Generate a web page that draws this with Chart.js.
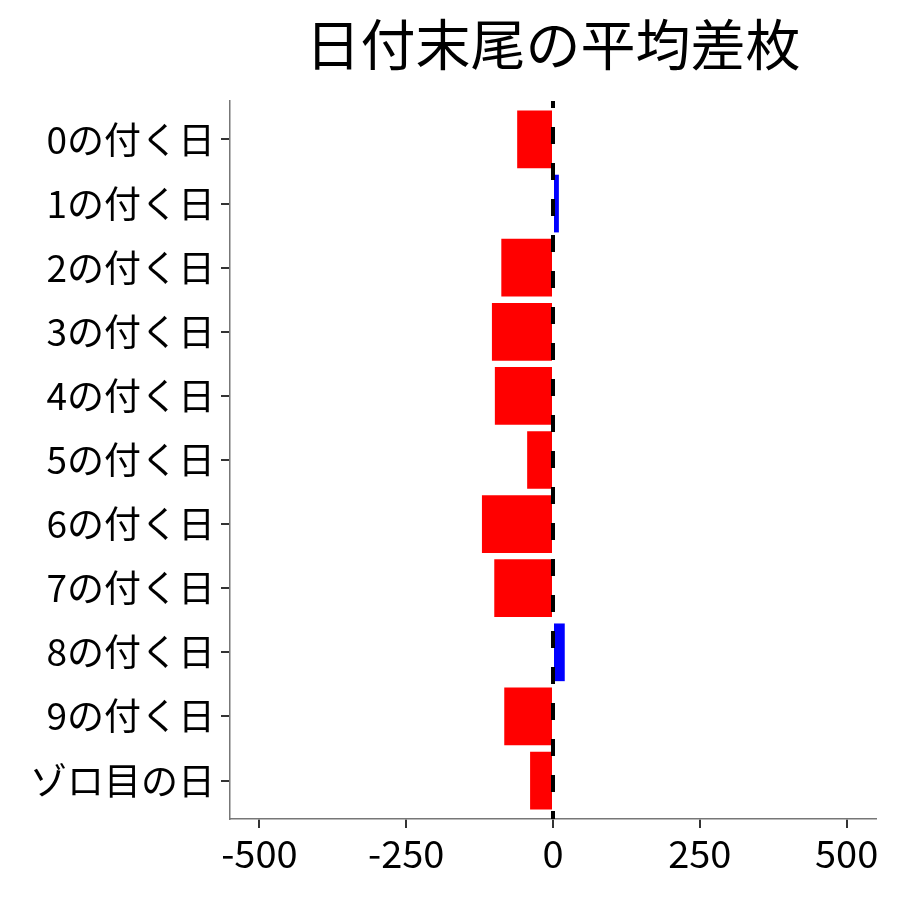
<!DOCTYPE html>
<html>
<head>
<meta charset="utf-8">
<script src="https://cdn.jsdelivr.net/npm/chart.js@4.4.1/dist/chart.umd.min.js"></script>
<style>
  body { margin: 0; background: #fff; }
</style>
</head>
<body>
<canvas id="chart" width="900" height="900"></canvas>
<script>
// 日付末尾ごとの平均差枚
const dayLabels = ['0の付く日', '1の付く日', '2の付く日', '3の付く日', '4の付く日',
                   '5の付く日', '6の付く日', '7の付く日', '8の付く日', '9の付く日', 'ゾロ目の日'];
const avgDiff = [-61, 10, -88, -104, -99, -44, -121, -100, 20, -83, -39];
const xTickValues = [-500, -250, 0, 250, 500];

const FONT = "'Noto Sans CJK JP', 'Noto Sans', sans-serif";

// 0 の位置に黒い破線
const zeroLine = {
    id: 'zeroLine',
    afterDatasetsDraw(chart) {
        const { ctx, chartArea, scales } = chart;
        const x = scales.x.getPixelForValue(0);
        ctx.save();
        ctx.strokeStyle = '#000';
        ctx.lineWidth = 4;
        ctx.setLineDash([17, 19]);
        ctx.lineDashOffset = 10;
        ctx.beginPath();
        ctx.moveTo(x, chartArea.top);
        ctx.lineTo(x, chartArea.bottom);
        ctx.stroke();
        ctx.restore();
    }
};

new Chart(document.getElementById('chart'), {
    type: 'bar',
    data: {
        datasets: [{
            data: avgDiff.map((v, i) => ({ x: v, y: i })),
            backgroundColor: avgDiff.map(v => v < 0 ? '#FF0000' : '#0000FF'),
            borderWidth: 0,
            barPercentage: 0.9,
            categoryPercentage: 1.0
        }]
    },
    options: {
        indexAxis: 'y',
        responsive: false,
        animation: false,
        layout: { padding: { left: 0, right: 24, top: 0, bottom: 0 } },
        plugins: {
            legend: { display: false },
            tooltip: { enabled: false },
            title: {
                display: true,
                text: '日付末尾の平均差枚',
                fullSize: false,
                color: '#000',
                font: { family: FONT, size: 55, weight: 'normal', lineHeight: 1.2 },
                padding: { top: 11, bottom: 24 }
            }
        },
        scales: {
            x: {
                type: 'linear',
                min: -550,
                max: 550,
                afterBuildTicks: scale => {
                    scale.ticks = xTickValues.map(v => ({ value: v }));
                },
                afterFit: scale => { scale.height = 81; },
                grid: {
                    drawOnChartArea: false,
                    drawTicks: true,
                    tickLength: 9,
                    color: '#333',
                    lineWidth: 2
                },
                border: { display: true, color: '#777', width: 1.5 },
                ticks: {
                    color: '#000',
                    padding: 3,
                    maxRotation: 0,
                    font: { family: FONT, size: 38 }
                }
            },
            y: {
                type: 'linear',
                reverse: true,
                offset: false,
                min: -0.6,
                max: 10.6,
                afterFit: scale => { scale.width = 230; },
                grid: {
                    offset: false,
                    drawOnChartArea: false,
                    drawTicks: true,
                    tickLength: 9,
                    color: '#333',
                    lineWidth: 2
                },
                border: { display: true, color: '#777', width: 1.5 },
                ticks: {
                    stepSize: 1,
                    includeBounds: false,
                    autoSkip: false,
                    color: '#000',
                    padding: 6,
                    font: { family: FONT, size: 37 },
                    callback: v => dayLabels[v] ?? ''
                }
            }
        }
    },
    plugins: [zeroLine]
});
</script>
</body>
</html>
